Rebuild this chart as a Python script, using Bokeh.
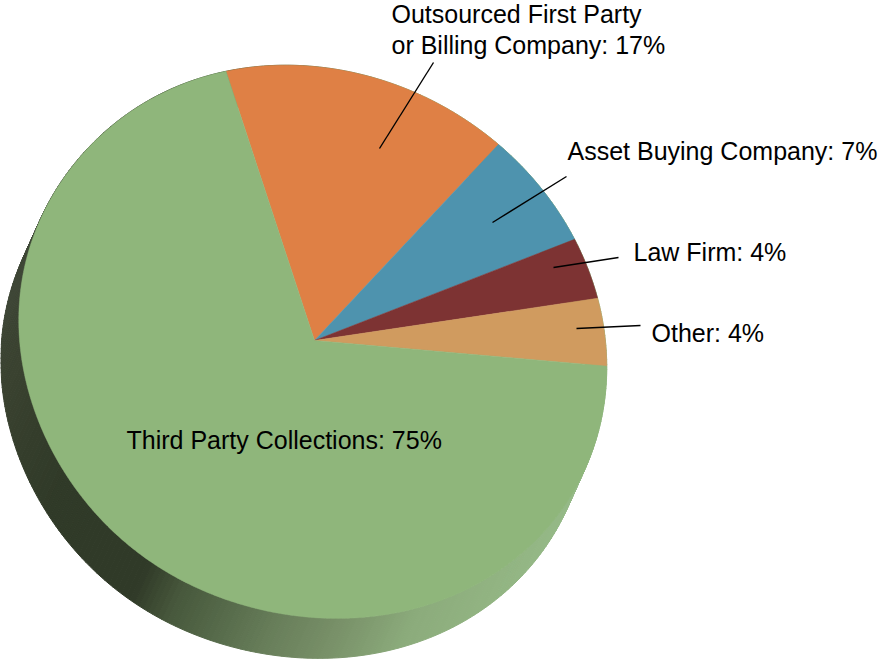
import numpy as np
from bokeh.plotting import figure
from bokeh.models import Range1d
from bokeh.core.properties import value
from bokeh.embed import file_html
from bokeh.resources import INLINE

# Slice shares as drawn (clockwise from the green/orange edge), and printed labels
slice_names = ["Outsourced First Party or Billing Company", "Asset Buying Company", "Law Firm", "Other", "Third Party Collections"]
slice_shares = [17.05, 7.1, 3.55, 3.75, 68.55]
slice_colors = ["#DF8045", "#4E93AE", "#7D3333", "#D09B5F", "#8FB67B"]

label_lines = ["Outsourced First Party", "or Billing Company: 17%", "Asset Buying Company: 7%", "Law Firm: 4%", "Other: 4%", "Third Party Collections: 75%"]
label_x = [391, 391, 567, 633, 651, 126]
label_y = [13, 44, 150, 251, 332, 439]

leader_x = [[379, 433], [492, 566], [553, 618], [576, 640]]
leader_y = [[148, 62], [222, 176], [267, 257], [328, 325]]

# Tilted ellipse of the pie's top face, off-centre apex, extrusion offset
cx, cy, a, b, phi = 312.0, 341.0, 301.0, 269.0, np.radians(28)
apex_x, apex_y = 314.0, 340.0
start_deg = -18.2
shift_x, shift_y = -18.0, 40.0
# Local radial corrections of the rim: (screen direction in radians, width, amount)
rim_bumps = [(np.arctan2(215, -180), 0.55, 0.014), (np.arctan2(-171, -245), 0.45, -0.010)]

side_stop_x = [0, 130, 165, 215, 260, 320, 400, 480, 560]
side_r = [0x30, 0x30, 0x47, 0x58, 0x68, 0x78, 0x8C, 0x92, 0x96]
side_g = [0x3A, 0x3A, 0x58, 0x6C, 0x7E, 0x90, 0xAC, 0xB4, 0xBA]
side_b = [0x28, 0x28, 0x3C, 0x4C, 0x5A, 0x68, 0x7C, 0x82, 0x88]
dark_stop_y = [300, 400, 520]
dark_r = [0x3F, 0x3A, 0x30]
dark_g = [0x47, 0x42, 0x3A]
dark_b = [0x37, 0x30, 0x28]

W, H = 879, 660
p = figure(width=W, height=H, x_range=Range1d(0, W), y_range=Range1d(H, 0),
           output_backend="svg", toolbar_location=None, min_border=0,
           margin=(0, 0, 0, 0))
p.axis.visible = False
p.grid.visible = False
p.outline_line_color = None
p.background_fill_color = "white"
p.border_fill_color = "white"


def rim_param(t):
    ex, ey = a * np.cos(t), b * np.sin(t)
    dx = ex * np.cos(phi) - ey * np.sin(phi)
    dy = ex * np.sin(phi) + ey * np.cos(phi)
    psi = np.arctan2(dy, dx)
    f = np.ones_like(t)
    for center, width, amount in rim_bumps:
        d = np.angle(np.exp(1j * (psi - center)))
        f = f + amount * np.exp(-(d / width) ** 2)
    return cx + f * dx, cy + f * dy


# Dense rim, ordered clockwise on screen as seen from the apex
dense_t = np.linspace(0, 2 * np.pi, 7201)
dense_x, dense_y = rim_param(dense_t)
dense_th = np.unwrap(np.arctan2(dense_x - apex_x, -(dense_y - apex_y)))


def rim_ray(theta):
    lo = dense_th[0]
    th = lo + np.mod(theta - lo, 2 * np.pi)
    return np.interp(th, dense_th, dense_x), np.interp(th, dense_th, dense_y)


# Extruded side
ts = np.linspace(0, 2 * np.pi, 361)
rx, ry = rim_param(ts)
side_xs, side_ys, side_cols = [], [], []
for i in range(360):
    side_xs.append([rx[i], rx[i + 1], rx[i + 1] + shift_x, rx[i] + shift_x])
    side_ys.append([ry[i], ry[i + 1], ry[i + 1] + shift_y, ry[i] + shift_y])
    xm = (rx[i] + rx[i + 1]) / 2 + shift_x
    ym = (ry[i] + ry[i + 1]) / 2 + shift_y
    if xm < 130:
        rgb = [int(np.interp(ym, dark_stop_y, ch)) for ch in (dark_r, dark_g, dark_b)]
    else:
        rgb = [int(np.interp(xm, side_stop_x, ch)) for ch in (side_r, side_g, side_b)]
    side_cols.append("#%02X%02X%02X" % tuple(rgb))
p.patches(side_xs, side_ys, fill_color=side_cols, line_color=side_cols, line_width=1)

# Top-face slices
total = sum(slice_shares)
ang = np.radians(start_deg)
for share, col in zip(slice_shares, slice_colors):
    sweep = 2 * np.pi * share / total
    th = np.linspace(ang, ang + sweep, max(int(share * 8), 8))
    ex, ey = rim_ray(th)
    p.patch(np.r_[apex_x, ex], np.r_[apex_y, ey], fill_color=col, line_color=col, line_width=0.5)
    ang += sweep

p.multi_line(leader_x, leader_y, line_color="black", line_width=1.4)
p.text(label_x, label_y, text=label_lines, text_font=value("Liberation Sans"),
       text_font_size="25px", text_color="black", text_baseline="alphabetic", text_align="left")

open("out.html", "w").write(file_html(p, INLINE))
